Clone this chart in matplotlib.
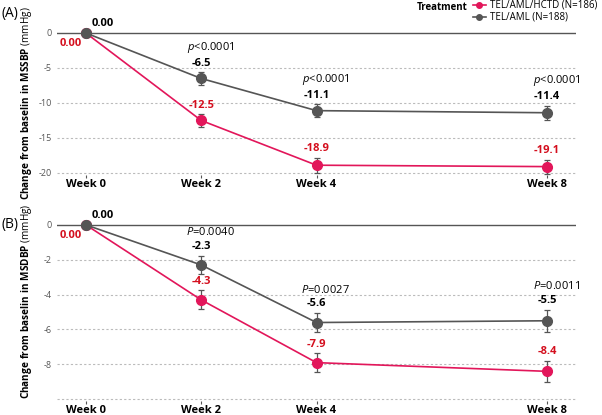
import matplotlib
matplotlib.use("Agg")
import matplotlib.pyplot as plt
from matplotlib.lines import Line2D

FONT = 'Open Sans'
plt.rcParams['font.family'] = [FONT, 'DejaVu Sans']
plt.rcParams['mathtext.fontset'] = 'custom'
plt.rcParams['mathtext.rm'] = FONT
plt.rcParams['mathtext.bf'] = FONT + ':bold'
plt.rcParams['mathtext.it'] = FONT + ':italic'

weeks = [0, 2, 4, 8]
week_labels = ["Week 0", "Week 2", "Week 4", "Week 8"]

# Panel A: MSSBP
sbp_hctd = [0.0, -12.5, -18.9, -19.1]
sbp_hctd_err = [0.0, 0.9, 1.05, 1.0]
sbp_aml = [0.0, -6.5, -11.1, -11.4]
sbp_aml_err = [0.0, 0.9, 0.95, 1.0]
sbp_p = ["", r"$p$<0.0001", r"$p$<0.0001", r"$p$<0.0001"]

# Panel B: MSDBP
dbp_hctd = [0.0, -4.3, -7.9, -8.4]
dbp_hctd_err = [0.0, 0.55, 0.54, 0.62]
dbp_aml = [0.0, -2.3, -5.6, -5.5]
dbp_aml_err = [0.0, 0.54, 0.55, 0.63]
dbp_p = ["", r"$P$=0.0040", r"$P$=0.0027", r"$P$=0.0011"]

series_names = ["TEL/AML/HCTD (N=186)", "TEL/AML (N=188)"]

RED = "#E2165A"
RED_TXT = "#D40F1E"
GRAY = "#555555"

W, H = 602, 415
fig = plt.figure(figsize=(W / 100, H / 100), dpi=100)

def make_ax(top_px, bot_px):
    left, right = 57, 576
    return fig.add_axes([left / W, 1 - bot_px / H, (right - left) / W, (bot_px - top_px) / H])

axA = make_ax(26, 175)
axB = make_ax(217, 401)

def draw(ax, hctd, hctd_err, aml, aml_err, pl, ylim, yticks, grid_ticks, ylabel, label_y):
    ax.set_xlim(-0.5, 8.5)
    ax.set_ylim(*ylim)
    for s in ax.spines.values():
        s.set_visible(False)
    for g in grid_ticks:
        ax.axhline(g, color="#BBBBBB", lw=0.8, ls=(0, (2, 2)), zorder=0)
    ax.axhline(0, color="#555555", lw=1.0, zorder=0)
    ax.errorbar(weeks, hctd, yerr=hctd_err, color=RED, lw=1.2, marker='o', ms=7,
                capsize=2.5, elinewidth=0.9, ecolor=GRAY, capthick=0.9, zorder=3)
    ax.errorbar(weeks, aml, yerr=aml_err, color=GRAY, lw=1.2, marker='o', ms=7,
                capsize=2.5, elinewidth=0.9, ecolor=GRAY, capthick=0.9, zorder=4)
    ax.set_yticks(yticks)
    ax.set_yticklabels([f"{t:g}" for t in yticks], fontsize=6.5, color="#555555")
    ax.tick_params(axis='y', length=0, pad=3.5)
    ax.set_xticks(weeks)
    ax.set_xticklabels(week_labels, fontsize=8, fontweight='bold')
    ax.tick_params(axis='x', length=2, width=0.8, color="#555555", pad=1)
    ax.set_ylabel(ylabel, fontsize=7.2, va='center')
    ax.yaxis.set_label_coords(-0.058, label_y)
    for i, w in enumerate(weeks):
        if i == 0:
            ax.annotate("0.00", (w, 0), xytext=(12, 3), textcoords='offset points',
                        ha='center', va='bottom', fontsize=8, fontweight='bold', color='black')
            ax.annotate("0.00", (w, 0), xytext=(-11, -3.5), textcoords='offset points',
                        ha='center', va='top', fontsize=8, fontweight='bold', color=RED_TXT)
            continue
        top_g = aml[i] + aml_err[i]
        ax.annotate(f"{aml[i]:.1f}", (w, top_g), xytext=(0, 2.5), textcoords='offset points',
                    ha='center', va='bottom', fontsize=8, fontweight='bold', color='black')
        ax.annotate(pl[i], (w, top_g), xytext=(6.5, 12.5), textcoords='offset points',
                    ha='center', va='bottom', fontsize=8, color='black')
        top_r = hctd[i] + hctd_err[i]
        ax.annotate(f"{hctd[i]:.1f}", (w, top_r), xytext=(0, 2.5), textcoords='offset points',
                    ha='center', va='bottom', fontsize=8, fontweight='bold', color=RED_TXT)

draw(axA, sbp_hctd, sbp_hctd_err, sbp_aml, sbp_aml_err, sbp_p,
     (-20.3, 1.0), [0, -5, -10, -15, -20], [-5, -10, -15, -20],
     r"$\bf{Change\ from\ baselin\ in\ MSSBP}$ (mmHg)", 0.48)
draw(axB, dbp_hctd, dbp_hctd_err, dbp_aml, dbp_aml_err, dbp_p,
     (-10.1, 0.45), [0, -2, -4, -6, -8], [-2, -4, -6, -8, -10],
     r"$\bf{Change\ from\ baselin\ in\ MSDBP}$ (mmHg)", 0.54)

fig.text(1 / W, 1 - 14 / H, "(A)", fontsize=10, va='center', ha='left')
fig.text(1 / W, 1 - 224 / H, "(B)", fontsize=10, va='center', ha='left')

fig.text(417 / W, 1 - 7 / H, "Treatment", fontsize=7, fontweight='bold', va='center', ha='left')
h1 = Line2D([], [], color=RED, marker='o', ms=4, lw=1.2)
h2 = Line2D([], [], color=GRAY, marker='o', ms=4, lw=1.2)
fig.legend([h1, h2], series_names, loc='upper left', bbox_to_anchor=(472 / W, 1 + 1 / H),
           frameon=False, fontsize=7, handlelength=1.3, handletextpad=0.5,
           labelspacing=0.1, borderaxespad=0, borderpad=0.1)

fig.savefig("out.png", dpi=100)
